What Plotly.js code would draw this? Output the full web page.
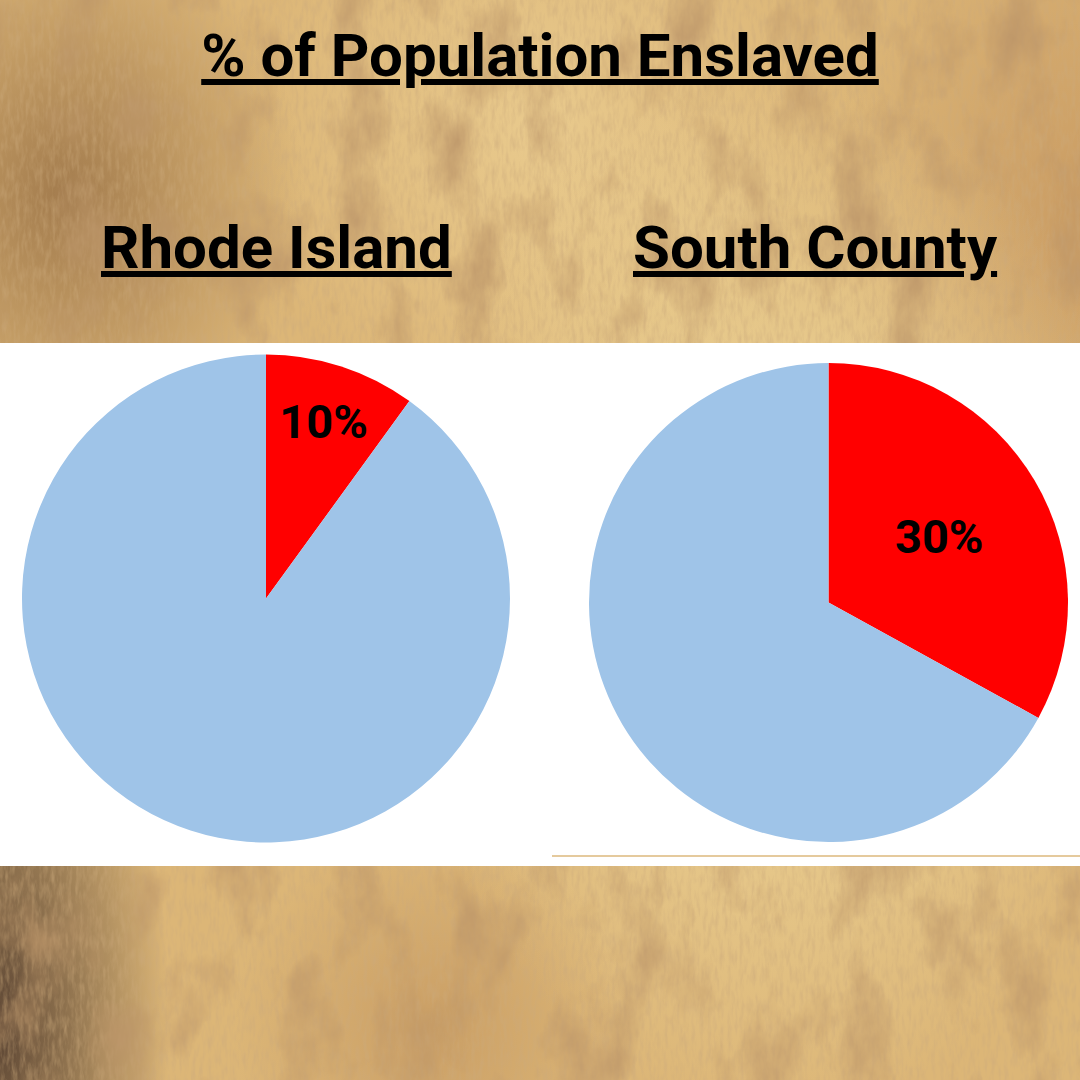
<!DOCTYPE html>
<html>
<head>
<meta charset="utf-8">
<script src="https://cdn.plot.ly/plotly-3.0.1.min.js"></script>
<style>
html, body { margin: 0; padding: 0; width: 1080px; height: 1080px; overflow: hidden; }
body {
  background-color: #dcb677;
  background-image:
    url("data:image/svg+xml;utf8,<svg xmlns='http://www.w3.org/2000/svg' width='1080' height='1080'><filter id='n'><feTurbulence type='fractalNoise' baseFrequency='0.018 0.01' numOctaves='6' seed='11'/><feColorMatrix values='0 0 0 0 0.5  0 0 0 0 0.3  0 0 0 0 0.14  0 0 0 2.0 -0.95'/></filter><rect width='100%' height='100%' filter='url(%23n)'/></svg>"),
    url("data:image/svg+xml;utf8,<svg xmlns='http://www.w3.org/2000/svg' width='1080' height='1080'><filter id='m'><feTurbulence type='fractalNoise' baseFrequency='0.25 0.06' numOctaves='3' seed='2'/><feColorMatrix values='0 0 0 0 0.6  0 0 0 0 0.4  0 0 0 0 0.2  0 0 0 1.0 -0.4'/></filter><rect width='100%' height='100%' filter='url(%23m)'/></svg>"),
    radial-gradient(ellipse 170px 420px at 0% 95%, rgba(70,50,40,0.85), rgba(70,50,40,0) 100%),
    radial-gradient(ellipse 240px 280px at 6% 18%, rgba(125,85,50,0.6), rgba(125,85,50,0) 100%),
    radial-gradient(ellipse 200px 200px at 40% 95%, rgba(160,105,60,0.3), rgba(160,105,60,0) 100%),
    radial-gradient(ellipse 380px 520px at 72% 55%, rgba(242,220,160,0.9), rgba(242,220,160,0) 100%),
    radial-gradient(ellipse 300px 300px at 50% 12%, rgba(238,210,150,0.7), rgba(238,210,150,0) 100%),
    radial-gradient(ellipse 250px 400px at 100% 20%, rgba(175,118,70,0.4), rgba(175,118,70,0) 100%);
}
#chart { width: 1080px; height: 1080px; }
</style>
</head>
<body>
<div id="chart"></div>
<script>
// Data
var categories = ["Enslaved", "Not enslaved"];
var rhodeIslandValues = [10, 90];
var southCountyValues = [33, 67];   // slice as drawn in the picture
var rhodeIslandText = ["10%", ""];
var southCountyText = ["30%", ""];
var sliceColors = ["#ff0000", "#9fc4e8"];
var mainTitle = "% of Population Enslaved";
var subTitles = ["Rhode Island", "South County"];

var W = 1080, H = 1080;
function px(x) { return x / W; }
function py(y) { return 1 - y / H; }

var pieCommon = {
  type: "pie",
  labels: categories,
  sort: false,
  direction: "clockwise",
  rotation: 0,
  marker: { colors: sliceColors, line: { width: 0 } },
  textinfo: "text",
  textposition: "inside",
  insidetextorientation: "horizontal",
  textfont: { family: "Roboto, 'Open Sans', sans-serif", size: 47, color: "#000000", weight: 700 },
  hoverinfo: "label+percent",
  showlegend: false
};

var trace1 = Object.assign({}, pieCommon, {
  values: rhodeIslandValues,
  text: rhodeIslandText,
  domain: { x: [px(22), px(510)], y: [py(843), py(354)] }
});
var trace2 = Object.assign({}, pieCommon, {
  values: southCountyValues,
  text: southCountyText,
  domain: { x: [px(588), px(1069)], y: [py(842), py(363)] }
});

var titleFont = { family: "Roboto, 'Open Sans', sans-serif", size: 60, color: "#000000", weight: 700, lineposition: "under" };

var layout = {
  width: W, height: H,
  margin: { l: 0, r: 0, t: 0, b: 0, autoexpand: false },
  paper_bgcolor: "rgba(0,0,0,0)",
  plot_bgcolor: "rgba(0,0,0,0)",
  title: {
    text: mainTitle,
    x: px(540), xanchor: "center",
    y: py(55), yanchor: "middle",
    xref: "paper", yref: "paper",
    font: titleFont
  },
  annotations: [
    { text: subTitles[0], xref: "paper", yref: "paper", x: px(276), y: py(247), xanchor: "center", yanchor: "middle", showarrow: false, font: titleFont },
    { text: subTitles[1], xref: "paper", yref: "paper", x: px(815), y: py(247), xanchor: "center", yanchor: "middle", showarrow: false, font: titleFont }
  ],
  shapes: [
    { type: "rect", xref: "paper", yref: "paper", x0: 0, x1: 1, y0: py(866), y1: py(343), fillcolor: "#ffffff", line: { width: 0 }, layer: "below" },
    { type: "line", xref: "paper", yref: "paper", x0: px(552), x1: 1, y0: py(856), y1: py(856), line: { color: "#dcb87c", width: 1.5 }, layer: "below" }
  ]
};

Plotly.newPlot("chart", [trace1, trace2], layout, { displayModeBar: false, staticPlot: true });
</script>
</body>
</html>
